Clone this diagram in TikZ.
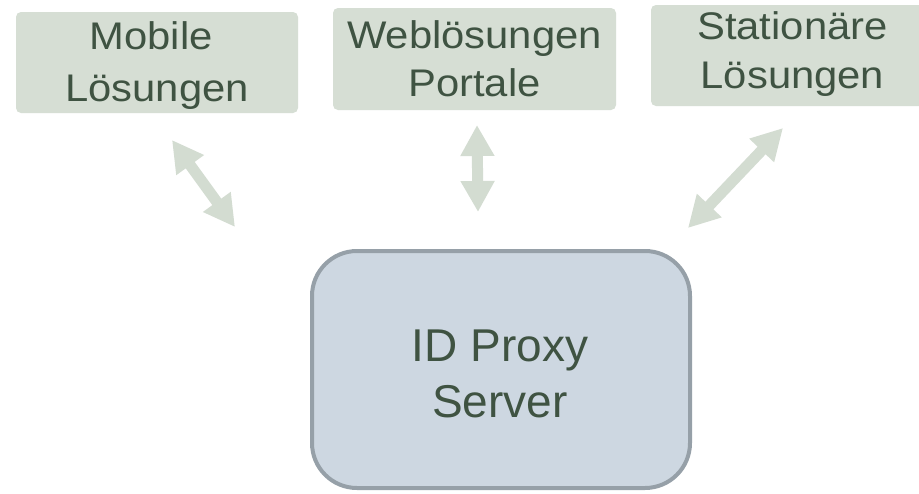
\documentclass[tikz,border=0pt]{standalone}
\usepackage{fontspec}
\setmainfont{Liberation Sans}
\usetikzlibrary{arrows.meta}
\definecolor{boxfill}{RGB}{214,222,212}
\definecolor{arrowfill}{RGB}{211,220,209}
\definecolor{txtgreen}{RGB}{63,83,66}
\definecolor{srvfill}{RGB}{205,215,225}
\definecolor{srvline}{RGB}{150,160,168}
\newcommand\stretchtxt[1]{\scalebox{1.085}[1]{#1}}
\begin{document}
\begin{tikzpicture}[x=1pt,y=-1pt,
  topbox/.style={fill=boxfill,draw=none,rounded corners=5pt,inner sep=0pt,minimum width=282pt,minimum height=101pt},
  toptext/.style={text=txtgreen,align=center,inner sep=0pt},
  srvbox/.style={fill=srvfill,draw=srvline,line width=4pt,rounded corners=45pt,inner sep=0pt,minimum width=378pt,minimum height=237pt},
  srvtext/.style={text=txtgreen,align=center,inner sep=0pt,font=\fontsize{46}{56.3}\selectfont},
  conn/.style={draw=arrowfill,line width=11pt,{Triangle[length=31pt,width=32pt,fill=arrowfill]}-{Triangle[length=31pt,width=32pt,fill=arrowfill]}}
]
\clip (0,0) rectangle (919,493);
\fill[white] (0,0) rectangle (919,493);

% top boxes
\node[topbox] (mob) at (157,62.5) {};
\node[toptext,font=\fontsize{38.5}{52}\selectfont] (mobt) at (157,66)
  {\stretchtxt{Mobile}\hspace*{11.6pt}\\\stretchtxt{Lösungen}};

\node[topbox,minimum width=283pt,minimum height=102pt] (web) at (474.5,59) {};
\node[toptext,font=\fontsize{38.5}{48.5}\selectfont] (webt) at (474.5,58.9)
  {\stretchtxt{Weblösungen}\\\stretchtxt{Portale}};

\node[topbox,minimum width=283pt] (sta) at (792.5,55.5) {};
\node[toptext,font=\fontsize{38.5}{49}\selectfont] (stat) at (792.5,53.7)
  {\stretchtxt{Stationäre}\\\stretchtxt{Lösungen}};

% server box
\node[srvbox] (srv) at (501,369.5) {};
\node[srvtext] (srvt) at (500,373.6) {ID Proxy\\Server};

% connector end points
\coordinate (a1) at (172,140);
\coordinate (b1) at (235,227);
\coordinate (a2) at (477,125);
\coordinate (b2) at (478,212);
\coordinate (a3) at (783,128);
\coordinate (b3) at (688,228);

\draw[conn] (a1) -- (b1);
\draw[conn] (a2) -- (b2);
\draw[conn] (a3) -- (b3);
\end{tikzpicture}
\end{document}
